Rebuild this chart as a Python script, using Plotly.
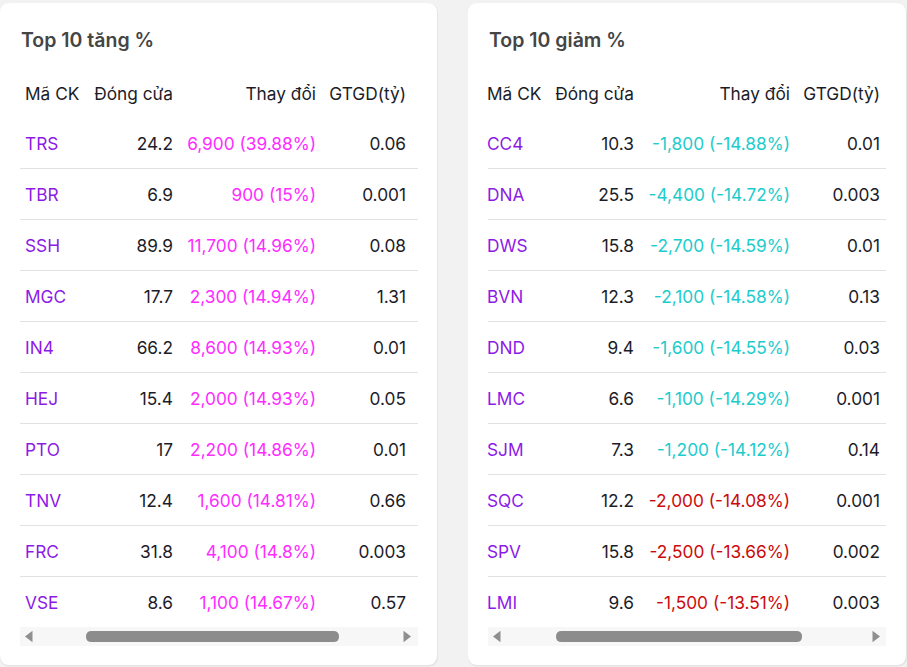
import plotly.graph_objects as go

# ---------------- data ----------------
headers = ["Mã CK", "Đóng cửa", "Thay đổi", "GTGD(tỷ)"]

up_title = "Top 10 tăng %"
up_codes = ["TRS", "TBR", "SSH", "MGC", "IN4", "HEJ", "PTO", "TNV", "FRC", "VSE"]
up_close = [24.2, 6.9, 89.9, 17.7, 66.2, 15.4, 17, 12.4, 31.8, 8.6]
up_change = [6900, 900, 11700, 2300, 8600, 2000, 2200, 1600, 4100, 1100]
up_pct = [39.88, 15, 14.96, 14.94, 14.93, 14.93, 14.86, 14.81, 14.8, 14.67]
up_value = [0.06, 0.001, 0.08, 1.31, 0.01, 0.05, 0.01, 0.66, 0.003, 0.57]
up_status = ["ceiling"] * 10

down_title = "Top 10 giảm %"
down_codes = ["CC4", "DNA", "DWS", "BVN", "DND", "LMC", "SJM", "SQC", "SPV", "LMI"]
down_close = [10.3, 25.5, 15.8, 12.3, 9.4, 6.6, 7.3, 12.2, 15.8, 9.6]
down_change = [-1800, -4400, -2700, -2100, -1600, -1100, -1200, -2000, -2500, -1500]
down_pct = [-14.88, -14.72, -14.59, -14.58, -14.55, -14.29, -14.12, -14.08, -13.66, -13.51]
down_value = [0.01, 0.003, 0.01, 0.13, 0.03, 0.001, 0.14, 0.001, 0.002, 0.003]
down_status = ["floor"] * 7 + ["down"] * 3

# ---------------- style ----------------
FONT = "Inter"
FS = 17.3
BG = "#f2f2f2"
CARD = "#ffffff"
CODE_COLOR = "#8c1be6"
TEXT_COLOR = "#1c1c28"
TITLE_COLOR = "#454545"
STATUS_COLORS = {"ceiling": "#ff2bff", "floor": "#1ccccc", "down": "#cc0a0a"}
LINE_COLOR = "#e2e2e2"

W, H = 907, 667
ROW_H = 51.0
ROW0_PX = 143.0  # pixel centre of first data row
TEXT_DY = 3.0 / ROW_H  # text vertical nudge (row units)


def py(px):
    """convert a pixel offset from the top into row units of the y axis"""
    return (px - ROW0_PX) / ROW_H


fig = go.Figure()

# layout geometry for each card (pixels)
cards = [
    dict(x0=0, x1=437, title_x=21, line=(20, 418), cols=(25, 173, 316, 406),
         thumb=(86, 339), arrows=(30, 406)),
    dict(x0=468, x1=906, title_x=489, line=(488, 886), cols=(487, 634, 790, 880),
         thumb=(556, 802), arrows=(498, 875)),
]
tables = [
    (up_title, up_codes, up_close, up_change, up_pct, up_value, up_status),
    (down_title, down_codes, down_close, down_change, down_pct, down_value, down_status),
]

shapes = []


def rounded(x0, x1, y0px, y1px, r=10):
    """rounded rectangle: x in pixels (x axis units), y converted to row units"""
    t, b = py(y0px), py(y1px)
    tr, br = py(y0px + r), py(y1px - r)
    return (f"M {x0+r},{t} L {x1-r},{t} Q {x1},{t} {x1},{tr} "
            f"L {x1},{br} Q {x1},{b} {x1-r},{b} L {x0+r},{b} "
            f"Q {x0},{b} {x0},{br} L {x0},{tr} Q {x0},{t} {x0+r},{t} Z")


for card, (title, codes, close, change, pct, value, status) in zip(cards, tables):
    n = len(codes)
    rows = list(range(n))
    trow = [r + TEXT_DY for r in rows]
    c0, c1, c2, c3 = card["cols"]
    # card shadow + body
    shapes.append(dict(type="path", path=rounded(card["x0"], card["x1"] + 1, 3.5, 666.5),
                       xref="x", yref="y", fillcolor="#e4e4e4", line=dict(width=0), layer="below"))
    shapes.append(dict(type="path", path=rounded(card["x0"], card["x1"], 3, 665),
                       xref="x", yref="y", fillcolor=CARD, line=dict(width=0), layer="below"))

    # title
    fig.add_trace(go.Scatter(x=[card["title_x"]], y=[py(39) + TEXT_DY], mode="text", text=[title],
                             textposition="middle right",
                             textfont=dict(family=FONT, size=19.5, color=TITLE_COLOR, weight=600),
                             hoverinfo="skip", showlegend=False))
    # headers
    hy = py(93) + TEXT_DY
    fig.add_trace(go.Scatter(x=[c0], y=[hy], mode="text", text=[headers[0]],
                             textposition="middle right",
                             textfont=dict(family=FONT, size=FS, color=TEXT_COLOR),
                             hoverinfo="skip", showlegend=False))
    fig.add_trace(go.Scatter(x=[c1, c2, c3], y=[hy] * 3, mode="text", text=headers[1:],
                             textposition="middle left",
                             textfont=dict(family=FONT, size=FS, color=TEXT_COLOR),
                             hoverinfo="skip", showlegend=False))
    # row separators
    lx, ly = [], []
    for i in rows[:-1]:
        lx += [card["line"][0], card["line"][1], None]
        ly += [i + 0.5, i + 0.5, None]
    fig.add_trace(go.Scatter(x=lx, y=ly, mode="lines", line=dict(color=LINE_COLOR, width=1),
                             hoverinfo="skip", showlegend=False))
    # code column
    fig.add_trace(go.Scatter(x=[c0] * n, y=trow, mode="text", text=codes,
                             textposition="middle right",
                             textfont=dict(family=FONT, size=FS, color=CODE_COLOR),
                             hoverinfo="skip", showlegend=False))
    # close column
    fig.add_trace(go.Scatter(x=[c1] * n, y=trow, mode="text", text=[f"{v:g}" for v in close],
                             textposition="middle left",
                             textfont=dict(family=FONT, size=FS, color=TEXT_COLOR),
                             hoverinfo="skip", showlegend=False))
    # change column
    fig.add_trace(go.Scatter(x=[c2] * n, y=trow, mode="text",
                             text=[f"{c:,} ({p:g}%)" for c, p in zip(change, pct)],
                             textposition="middle left",
                             textfont=dict(family=FONT, size=FS,
                                           color=[STATUS_COLORS[s] for s in status]),
                             hoverinfo="skip", showlegend=False))
    # value column
    fig.add_trace(go.Scatter(x=[c3] * n, y=trow, mode="text", text=[f"{v:g}" for v in value],
                             textposition="middle left",
                             textfont=dict(family=FONT, size=FS, color=TEXT_COLOR),
                             hoverinfo="skip", showlegend=False))
    # scrollbar track + thumb
    shapes.append(dict(type="rect", xref="x", yref="y", x0=card["line"][0], x1=card["line"][1],
                       y0=py(627), y1=py(646), fillcolor="#f7f7f7", line=dict(width=0), layer="below"))
    t0, t1 = card["thumb"]
    shapes.append(dict(type="path", xref="x", yref="y", path=rounded(t0, t1, 631, 642, r=5.5),
                       fillcolor="#8c8c8c", line=dict(width=0)))
    a0, a1 = card["arrows"]
    yc = py(636.5)
    fig.add_trace(go.Scatter(x=[a0, a1], y=[yc, yc], mode="markers",
                             marker=dict(symbol=["triangle-left", "triangle-right"], size=10,
                                         color="#8f8f8f"),
                             hoverinfo="skip", showlegend=False))

fig.update_layout(
    width=W, height=H,
    margin=dict(l=0, r=0, t=0, b=0),
    paper_bgcolor=BG, plot_bgcolor=BG,
    shapes=shapes,
    xaxis=dict(range=[0, W], visible=False, fixedrange=True),
    yaxis=dict(range=[py(H), py(0)], visible=False, fixedrange=True),
    font=dict(family=FONT),
)

fig.write_html("out.html", config={"displayModeBar": False},
               post_script="document.body.style.margin='0';document.body.style.overflow='hidden';")
